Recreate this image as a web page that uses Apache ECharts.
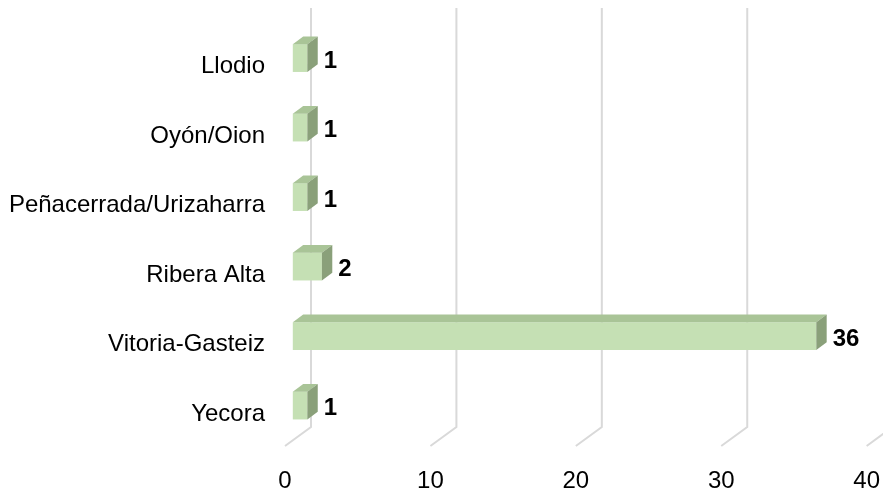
<!DOCTYPE html>
<html>
<head>
<meta charset="utf-8">
<script src="https://cdn.jsdelivr.net/npm/echarts@6/dist/echarts.min.js"></script>
<style>
	html, body { margin: 0; padding: 0; background: #fff; }
	#main { width: 883px; height: 493px; }
</style>
</head>
<body>
<div id="main"></div>
<script>
// data
const categories = ['Llodio', 'Oyón/Oion', 'Peñacerrada/Urizaharra', 'Ribera Alta', 'Vitoria-Gasteiz', 'Yecora'];
const values = [1, 1, 1, 2, 36, 1];
const xTicks = [0, 10, 20, 30, 40];

// 3d look: depth vector from the front edge of the floor to the back wall
const DX = 26;
const DY = -19;
const FONT = '"Liberation Sans", Arial, sans-serif';

const myChart = echarts.init(document.getElementById('main'));

// gridlines on back wall + floor diagonal
function renderGrid(params, api) {
	const cs = params.coordSys;
	const p = api.coord([api.value(0), 0]);
	const fx = p[0];
	const fy = cs.y + cs.height;
	return {
		type: 'polyline',
		shape: {
			points: [[fx, fy], [fx + DX, fy + DY], [fx + DX, cs.y - 21]]
		},
		style: { stroke: '#d9d9d9', lineWidth: 2, fill: null }
	};
}

function renderBar(params, api) {
	const cat = api.value(0);
	const val = api.value(1);
	const start = api.coord([0, cat]);
	const end = api.coord([val, cat]);
	const h = api.size([0, 1])[1] * 0.4;
	const ox = 0.3 * DX;
	const oy = 0.3 * DY;
	const dx = 0.4 * DX;
	const dy = 0.4 * DY;
	const x0 = start[0] + ox;
	const x1 = end[0] + ox;
	const cy = start[1] + oy;
	const y0 = cy - h / 2;
	const y1 = cy + h / 2;
	return {
		type: 'group',
		children: [
			{
				type: 'rect',
				shape: { x: x0, y: y0, width: x1 - x0, height: h },
				style: { fill: '#c5e0b4' }
			},
			{
				type: 'polygon',
				shape: { points: [[x0, y0], [x1, y0], [x1 + dx, y0 + dy], [x0 + dx, y0 + dy]] },
				style: { fill: '#a9c497' }
			},
			{
				type: 'polygon',
				shape: { points: [[x1, y0], [x1 + dx, y0 + dy], [x1 + dx, y1 + dy], [x1, y1]] },
				style: { fill: '#8aa07a' }
			},
			{
				type: 'text',
				x: x1 + dx + 6,
				y: cy + 3,
				style: {
					text: String(val),
					fill: '#000',
					font: 'bold 24px ' + FONT,
					verticalAlign: 'middle',
					align: 'left'
				}
			}
		]
	};
}

const option = {
	animation: false,
	grid: {
		left: 285,
		top: 29,
		width: 582,
		height: 421
	},
	xAxis: {
		type: 'value',
		min: 0,
		max: 40,
		interval: 10,
		axisLine: { show: false },
		axisTick: { show: false },
		splitLine: { show: false },
		axisLabel: {
			margin: 23,
			fontSize: 24,
			fontFamily: FONT,
			color: '#000'
		}
	},
	yAxis: {
		type: 'category',
		inverse: true,
		data: categories,
		axisLine: { show: false },
		axisTick: { show: false },
		axisLabel: {
			margin: 20,
			formatter: (v) => '{c|' + v + '}',
			rich: {
				c: {
					fontSize: 24,
					fontFamily: FONT,
					color: '#000',
					padding: [6, 0, 0, 0]
				}
			}
		}
	},
	series: [
		{
			type: 'custom',
			renderItem: renderGrid,
			data: xTicks.map((t) => [t]),
			encode: { x: 0 },
			clip: false,
			silent: true,
			z: 1
		},
		{
			type: 'custom',
			renderItem: renderBar,
			data: values.map((v, i) => [i, v]),
			encode: { y: 0, x: 1 },
			clip: false,
			z: 2
		}
	]
};

myChart.setOption(option);
</script>
</body>
</html>
